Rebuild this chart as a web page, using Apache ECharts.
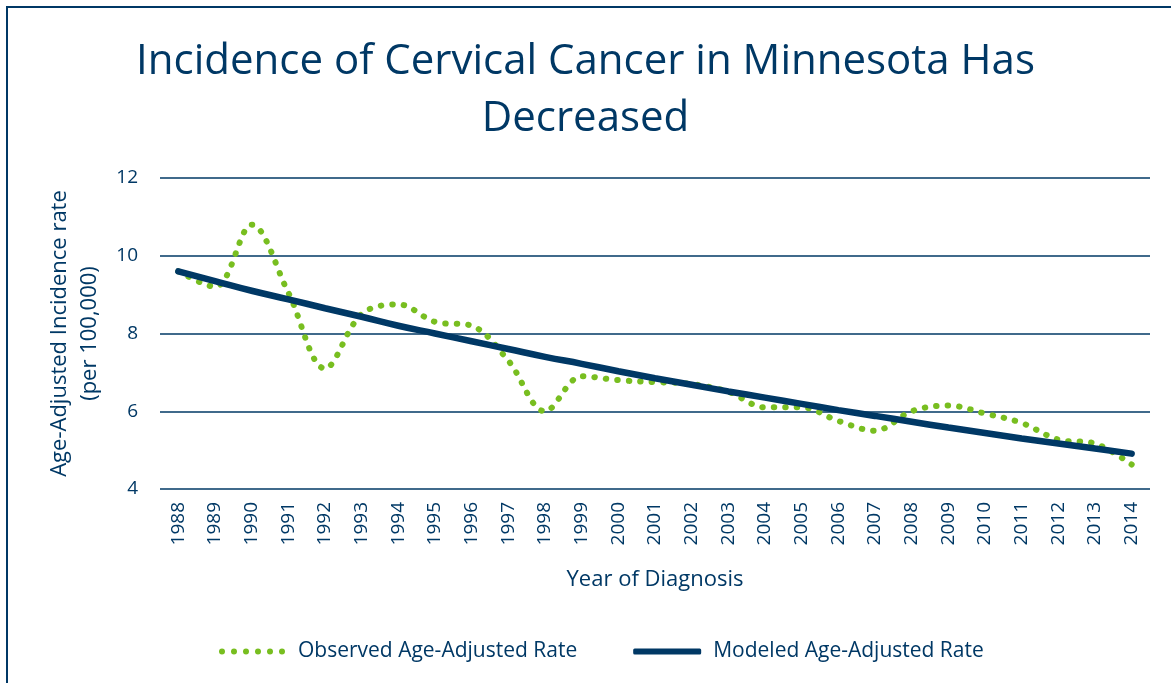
<!DOCTYPE html>
<html>
<head>
<meta charset="utf-8">
<script src="https://cdn.jsdelivr.net/npm/echarts@6/dist/echarts.min.js"></script>
<style>
html, body { margin: 0; padding: 0; background: #fff; }
#plot { width: 1171px; height: 683px; }
</style>
</head>
<body>
<div id="plot"></div>
<script>
var years = ['1988','1989','1990','1991','1992','1993','1994','1995','1996','1997',
	'1998','1999','2000','2001','2002','2003','2004','2005','2006','2007',
	'2008','2009','2010','2011','2012','2013','2014'];
// observed rate
var observed = [9.6, 9.2, 10.8, 9.05, 7.1, 8.5, 8.75, 8.3, 8.2, 7.3,
	6.0, 6.9, 6.8, 6.75, 6.7, 6.5, 6.1, 6.1, 5.75, 5.5,
	6.0, 6.15, 5.94, 5.7, 5.27, 5.17, 4.63];
// modeled rate (solid line)
var modeled = [9.6, 9.35, 9.1, 8.88, 8.65, 8.43, 8.2, 8.0, 7.8, 7.6,
	7.4, 7.22, 7.03, 6.85, 6.68, 6.51, 6.35, 6.19, 6.03, 5.88,
	5.73, 5.58, 5.44, 5.3, 5.17, 5.04, 4.91];
var yTicks = [4, 12, 2]; // min, max, step

var navy = '#003865';
var green = '#78be20';
var font = '"Open Sans", sans-serif';

// six dots for the observed legend key
var dotsIcon = 'path://M0,3a3,3 0 1,0 6,0a3,3 0 1,0 -6,0' +
	'M12,3a3,3 0 1,0 6,0a3,3 0 1,0 -6,0' +
	'M24,3a3,3 0 1,0 6,0a3,3 0 1,0 -6,0' +
	'M36,3a3,3 0 1,0 6,0a3,3 0 1,0 -6,0' +
	'M48,3a3,3 0 1,0 6,0a3,3 0 1,0 -6,0' +
	'M60,3a3,3 0 1,0 6,0a3,3 0 1,0 -6,0';

var option = {
	animation: false,
	title: {
		text: 'Incidence of Cervical Cancer in Minnesota Has\nDecreased',
		left: 'center',
		top: 29,
		textStyle: {
			color: navy,
			fontFamily: font,
			fontWeight: 'normal',
			fontSize: 42,
			lineHeight: 57
		}
	},
	graphic: [{
		type: 'rect',
		shape: { x: 7, y: 7, width: 1200, height: 720 },
		style: { fill: 'none', stroke: navy, lineWidth: 2 },
		silent: true
	}],
	legend: {
		top: 636,
		left: 214,
		itemWidth: 68,
		itemHeight: 6,
		itemGap: 56,
		textStyle: { color: navy, fontFamily: font, fontSize: 21, padding: [0, 0, 0, 7] },
		data: [
			{ name: 'Observed Age-Adjusted Rate', icon: dotsIcon },
			{ name: 'Modeled Age-Adjusted Rate', icon: 'roundRect' }
		]
	},
	grid: { left: 160, right: 21, top: 178, bottom: 194 },
	xAxis: {
		type: 'category',
		data: years,
		name: 'Year of Diagnosis',
		nameLocation: 'middle',
		nameGap: 80,
		nameTextStyle: { color: navy, fontFamily: font, fontSize: 22 },
		axisLine: { show: false },
		axisTick: { show: false },
		axisLabel: { rotate: 90, margin: 13, color: navy, fontFamily: font, fontSize: 19 }
	},
	yAxis: {
		type: 'value',
		min: yTicks[0],
		max: yTicks[1],
		interval: yTicks[2],
		name: 'Age-Adjusted Incidence rate\n(per 100,000)',
		nameLocation: 'middle',
		nameRotate: 90,
		nameGap: 55,
		nameTextStyle: { color: navy, fontFamily: font, fontSize: 22, lineHeight: 30 },
		axisLine: { show: false },
		axisTick: { show: false },
		axisLabel: { margin: 22, color: navy, fontFamily: font, fontSize: 19 },
		splitLine: { lineStyle: { color: navy, width: 1.5 } }
	},
	series: [
		{
			name: 'Observed Age-Adjusted Rate',
			type: 'line',
			smooth: 0.35,
			showSymbol: false,
			symbol: 'none',
			data: observed,
			itemStyle: { color: green },
			lineStyle: { color: green, width: 6, type: [0.5, 11], cap: 'round' }
		},
		{
			name: 'Modeled Age-Adjusted Rate',
			type: 'line',
			smooth: true,
			showSymbol: false,
			symbol: 'none',
			data: modeled,
			itemStyle: { color: navy },
			lineStyle: { color: navy, width: 6.5, cap: 'round' }
		}
	]
};

var myChart = echarts.init(document.getElementById('plot'));
myChart.setOption(option);
</script>
</body>
</html>
